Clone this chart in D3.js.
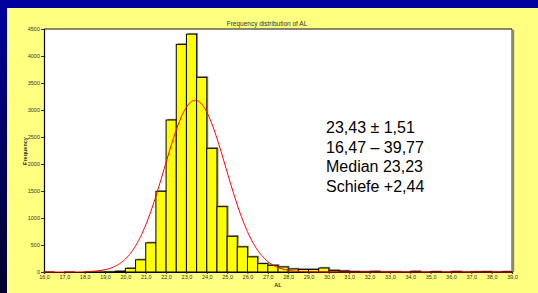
<!DOCTYPE html>
<html>
<head>
<meta charset="utf-8">
<script src="https://cdn.jsdelivr.net/npm/d3@7"></script>
<style>
  html, body { margin: 0; padding: 0; background: #000080; }
  svg { display: block; font-family: "Liberation Sans", Arial, sans-serif; }
</style>
</head>
<body>
<div id="chart"></div>
<script>
// bins of width 0.5, given by their lower edge
var binStarts = [16.0, 16.5, 17.0, 17.5, 18.0, 18.5, 19.0, 19.5, 20.0, 20.5, 21.0, 21.5,
                 22.0, 22.5, 23.0, 23.5, 24.0, 24.5, 25.0, 25.5, 26.0, 26.5, 27.0, 27.5,
                 28.0, 28.5, 29.0, 29.5, 30.0, 30.5, 31.0, 31.5, 32.0, 32.5, 33.0, 33.5,
                 34.0, 34.5, 35.0, 35.5, 36.0, 36.5, 37.0, 37.5, 38.0, 38.5];
var counts = [1, 0, 1, 0, 2, 3, 5, 14, 68, 226, 540, 1495,
              2815, 4215, 4405, 3605, 2290, 1210, 662, 465, 280, 155, 124, 93,
              56, 48, 48, 74, 30, 19, 10, 6, 12, 4, 5, 2,
              12, 2, 8, 2, 10, 2, 6, 8, 3, 8];
var binWidth = 0.5;

var xTicks = d3.range(16, 39.5, 1);
var yTicks = [0, 500, 1000, 1500, 2000, 2500, 3000, 3500, 4000, 4500];

// fitted normal curve: mean, sd and peak height
var mean = 23.43, sd = 1.51, curvePeak = 3180;
var statLines = ["23,43 \u00b1 1,51", "16,47 \u2013 39,77", "Median 23,23", "Schiefe +2,44"];

var W = 538, H = 293;
var svg = d3.select('#chart').append('svg').attr('width', W).attr('height', H);

var defs = svg.append('defs');
var grad = defs.append('linearGradient').attr('id', 'bg').attr('x1', 0).attr('y1', 0).attr('x2', 0).attr('y2', 1);
grad.append('stop').attr('offset', '0%').attr('stop-color', '#0000a0');
grad.append('stop').attr('offset', '100%').attr('stop-color', '#00002a');

svg.append('rect').attr('width', W).attr('height', H).attr('fill', 'url(#bg)');
svg.append('rect').attr('x', 7).attr('y', 8).attr('width', W - 7).attr('height', H - 8).attr('fill', '#ffff80');

var x = d3.scaleLinear().domain([16, 39]).range([44, 512]);
var y = d3.scaleLinear().domain([0, 4500]).range([272, 29]);

// plot area
svg.append('rect').attr('x', x(16)).attr('y', y(4500))
    .attr('width', x(39) - x(16)).attr('height', y(0) - y(4500)).attr('fill', '#fff');
svg.append('line').attr('x1', x(39) + 1.5).attr('x2', x(39) + 1.5).attr('y1', y(4500) + 1).attr('y2', y(0))
    .attr('stroke', '#888').attr('stroke-width', 1.5);
svg.append('line').attr('x1', x(39)).attr('x2', x(39)).attr('y1', y(4500)).attr('y2', y(0))
    .attr('stroke', '#333').attr('stroke-width', 1);
svg.append('line').attr('x1', x(16)).attr('x2', x(39)).attr('y1', y(4500)).attr('y2', y(4500))
    .attr('stroke', '#111').attr('stroke-width', 1);

// bars: gray shadow, then yellow
var bins = binStarts.map(function(s, i) { return { x0: s, x1: s + binWidth, n: counts[i] }; })
    .filter(function(d) { return d.n > 0; });

svg.selectAll('.shadow').data(bins).enter().append('rect')
    .attr('class', 'shadow')
    .attr('x', function(d) { return x(d.x0) + 1.5; })
    .attr('y', function(d) { return y(d.n) - 1.2; })
    .attr('width', function(d) { return x(d.x1) - x(d.x0); })
    .attr('height', function(d) { return y(0) - y(d.n); })
    .attr('fill', '#999');

svg.selectAll('.bar').data(bins).enter().append('rect')
    .attr('class', 'bar')
    .attr('x', function(d) { return x(d.x0); })
    .attr('y', function(d) { return y(d.n); })
    .attr('width', function(d) { return x(d.x1) - x(d.x0); })
    .attr('height', function(d) { return y(0) - y(d.n); })
    .attr('fill', '#ffff00')
    .attr('stroke', '#000')
    .attr('stroke-width', 1);

// axes
var yAxis = svg.append('g').attr('transform', 'translate(' + x(16) + ',0)')
    .call(d3.axisLeft(y).tickValues(yTicks).tickSize(3).tickPadding(1).tickFormat(function(d) { return d; }));
var xAxis = svg.append('g').attr('transform', 'translate(0,' + y(0) + ')')
    .call(d3.axisBottom(x).tickValues(xTicks).tickSize(2).tickPadding(1)
        .tickFormat(function(d) { return d.toFixed(1).replace('.', ','); }));
[yAxis, xAxis].forEach(function(a) {
    a.select('.domain').attr('stroke', '#000').attr('stroke-width', 1.2);
    a.selectAll('.tick line').attr('stroke', '#333');
    a.selectAll('text').attr('fill', '#333').style('font-size', '5.5px')
        .style('font-family', '"Liberation Sans", Arial, sans-serif');
});

// fitted normal curve
var curveX = d3.range(16, 39.001, 0.05);
var line = d3.line()
    .x(function(v) { return x(v); })
    .y(function(v) { var z = (v - mean) / sd; return y(curvePeak * Math.exp(-0.5 * z * z)); });
svg.append('path').datum(curveX).attr('d', line)
    .attr('fill', 'none').attr('stroke', '#ff0000').attr('stroke-width', 1);

// titles
svg.append('text').attr('x', 267).attr('y', 26).attr('text-anchor', 'middle')
    .style('font-size', '6.5px').attr('fill', '#333').text('Frequency distribution of AL');
svg.append('text').attr('x', 278).attr('y', 287).attr('text-anchor', 'middle')
    .style('font-size', '5.5px').style('font-weight', 'bold').attr('fill', '#333').text('AL');
svg.append('text').attr('transform', 'translate(27,151) rotate(-90)').attr('text-anchor', 'middle')
    .style('font-size', '5.5px').style('font-weight', 'bold').attr('fill', '#333').text('Frequency');

// statistics box
svg.selectAll('.stat').data(statLines).enter().append('text')
    .attr('class', 'stat')
    .attr('x', 326)
    .attr('y', function(d, i) { return 133 + i * 19.5; })
    .style('font-size', '16px')
    .attr('fill', '#000')
    .text(function(d) { return d; });
</script>
</body>
</html>
